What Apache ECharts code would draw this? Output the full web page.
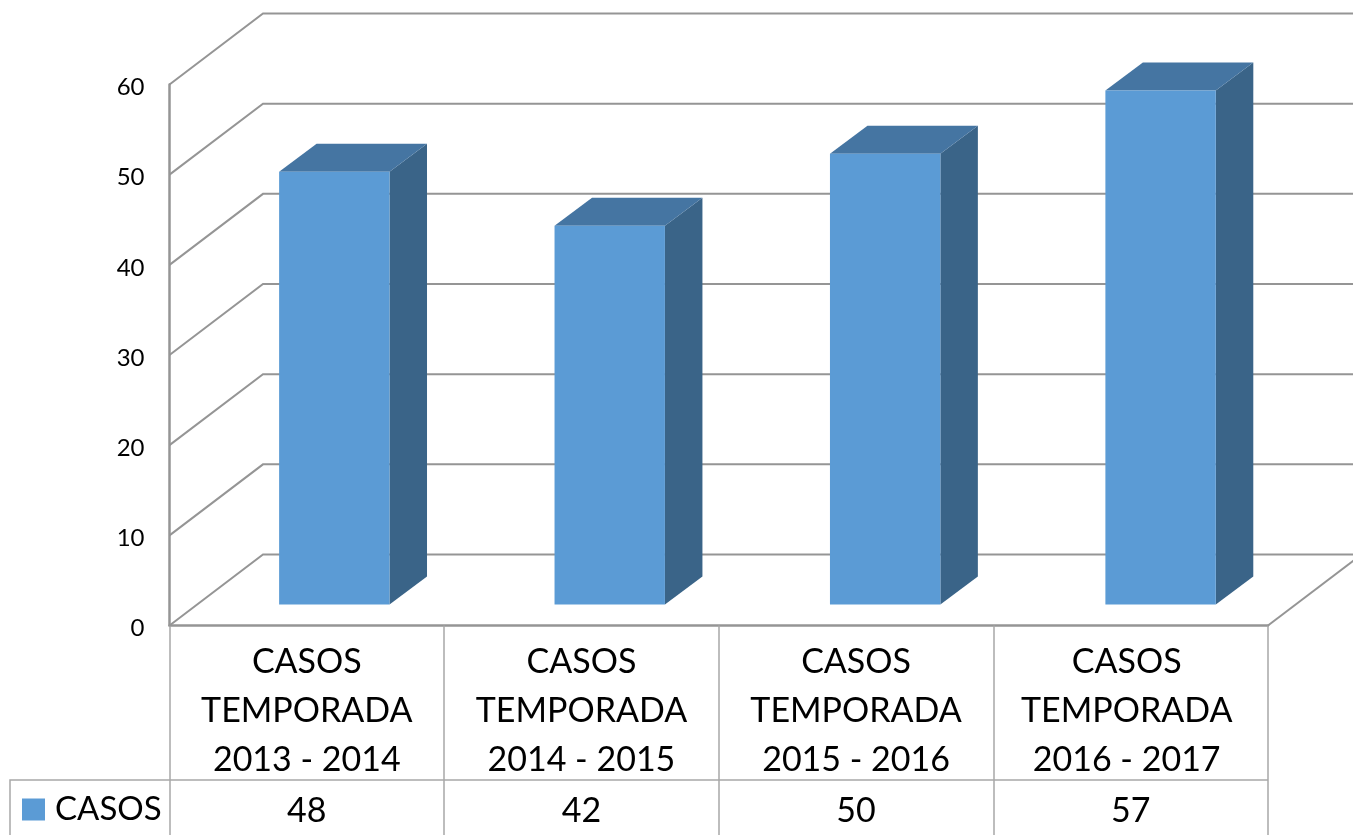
<!DOCTYPE html>
<html>
<head>
<meta charset="UTF-8">
<title>Casos por temporada</title>
<script src="https://cdn.jsdelivr.net/npm/echarts@6/dist/echarts.min.js"></script>
<style>
    html, body { margin: 0; padding: 0; background: #fff; }
    #app { width: 1353px; height: 835px; }
</style>
</head>
<body>
<div id="app"></div>
<script>
    const categories = ['CASOS\nTEMPORADA\n2013 - 2014', 'CASOS\nTEMPORADA\n2014 - 2015', 'CASOS\nTEMPORADA\n2015 - 2016', 'CASOS\nTEMPORADA\n2016 - 2017'];
    const casos = [48, 42, 50, 57];
    const wallTicks = [0, 10, 20, 30, 40, 50, 60];

    const FONT = 'Lato, Carlito, sans-serif';
    const LINE = '#959595';
    // profundidad del "3D"
    const WALL_DX = 93.5, WALL_DY = -71;
    const BAR_DX = 37.5, BAR_DY = -28;
    const BAR_SHIFT_X = 27.5, BAR_SHIFT_Y = -21;
    const BAR_DRIFT = 0.8; // la perspectiva separa un poco mas las barras que las celdas

    function renderWall(params, api) {
        const v = api.value(0);
        const g = params.coordSys;
        const y = api.coord([0, v])[1];
        const left = g.x, right = g.x + g.width;
        const shapes = [{
            type: 'polyline',
            shape: {points: [[left, y], [left + WALL_DX, y + WALL_DY], [right + WALL_DX, y + WALL_DY]]},
            style: {fill: null, stroke: LINE, lineWidth: 2}
        }];
        if (v === 0) {
            shapes.push({
                type: 'line',
                shape: {x1: right, y1: y, x2: right + WALL_DX, y2: y + WALL_DY},
                style: {stroke: LINE, lineWidth: 2}
            });
        }
        return {type: 'group', children: shapes};
    }

    function renderBar(params, api) {
        const idx = api.value(0);
        const top = api.coord([idx, api.value(1)]);
        const base = api.coord([idx, 0]);
        const w = api.size([1, 0])[0] * 0.402;
        const x0 = top[0] + BAR_SHIFT_X + idx * BAR_DRIFT - w / 2, x1 = x0 + w;
        const y0 = top[1] + BAR_SHIFT_Y, y1 = base[1] + BAR_SHIFT_Y;
        return {
            type: 'group',
            children: [
                {type: 'polygon', shape: {points: [[x1, y0], [x1 + BAR_DX, y0 + BAR_DY], [x1 + BAR_DX, y1 + BAR_DY], [x1, y1]]}, style: {fill: '#3a6488'}},
                {type: 'polygon', shape: {points: [[x0, y0], [x0 + BAR_DX, y0 + BAR_DY], [x1 + BAR_DX, y0 + BAR_DY], [x1, y0]]}, style: {fill: '#4575a2'}},
                {type: 'rect', shape: {x: x0, y: y0, width: w, height: y1 - y0}, style: {fill: '#5b9bd5'}}
            ]
        };
    }

    const myChart = echarts.init(document.getElementById('app'), null, {renderer: 'canvas'});
    myChart.setOption({
        animation: false,
        backgroundColor: '#fff',
        grid: {left: 169.5, top: 84.5, width: 1098.5, height: 541},
        legend: {
            data: [{name: 'CASOS', icon: 'rect', itemStyle: {color: '#5b9bd5'}}],
            left: 17, top: 788,
            itemWidth: 23, itemHeight: 22, itemGap: 0,
            textStyle: {fontFamily: FONT, fontSize: 33, color: '#000', padding: [0, 0, 0, 5]},
            selectedMode: false
        },
        xAxis: [{
            type: 'category',
            // la ultima etiqueta va algo desplazada a la izquierda en el original
            data: categories.map((value, i) => i === 3 ? {value: value, textStyle: {padding: [0, 8, 0, 0]}} : value),
            axisLine: {lineStyle: {color: LINE, width: 2.5}},
            axisTick: {show: true, length: 210, lineStyle: {color: '#a8a8a8', width: 1.5}},
            axisLabel: {fontFamily: FONT, fontSize: 34, color: '#000', lineHeight: 49, margin: 12, interval: 0}
        }, {
            type: 'category',
            position: 'bottom',
            offset: 164,
            data: casos.map(String),
            axisLine: {show: false},
            axisTick: {show: false},
            axisLabel: {fontFamily: FONT, fontSize: 34, color: '#000', margin: 5, interval: 0}
        }],
        yAxis: {
            type: 'value',
            min: 0, max: 60, interval: 10,
            axisLine: {show: true, lineStyle: {color: LINE, width: 2.5}},
            axisTick: {show: false},
            splitLine: {show: false},
            // baja las etiquetas 2px respecto a la marca, como en el original
            axisLabel: {fontFamily: FONT, fontSize: 24, color: '#000', margin: 25, verticalAlign: 'top', lineHeight: 6}
        },
        graphic: [
            {type: 'polyline', shape: {points: [[10, 835], [10, 780], [1268, 780]]}, style: {fill: null, stroke: '#a8a8a8', lineWidth: 1.5}}
        ],
        series: [{
            name: 'paredes',
            type: 'custom',
            data: wallTicks.map(v => [v]),
            encode: {y: 0},
            clip: false,
            z: 1,
            silent: true,
            renderItem: renderWall
        }, {
            name: 'CASOS',
            type: 'custom',
            data: casos.map((v, i) => [i, v]),
            encode: {x: 0, y: 1},
            clip: false,
            z: 2,
            silent: true,
            renderItem: renderBar
        }]
    });
</script>
</body>
</html>
